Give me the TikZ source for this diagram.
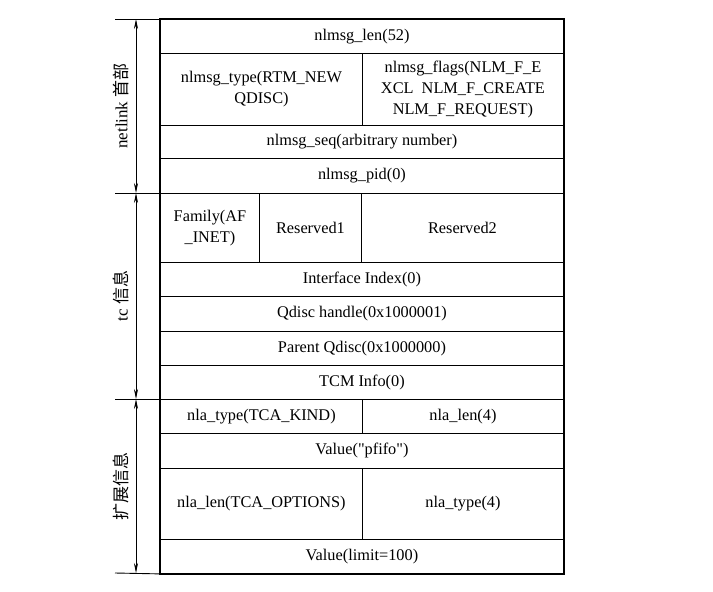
\documentclass[tikz,border=0pt]{standalone}
\usepackage{fontspec}
\setmainfont{Liberation Serif}
\newfontfamily\cjk{Noto Sans CJK SC}
\usetikzlibrary{arrows.meta}
\begin{document}
\begin{tikzpicture}[x=1pt,y=-1pt,
  cell/.style={draw,line width=0.9pt,anchor=north west,inner sep=0pt,
    align=center,font=\fontsize{16.3}{21}\selectfont},
  sep/.style={line width=0.9pt},
  span/.style={line width=0.8pt,{Stealth[length=10pt,width=4pt]}-{Stealth[length=10pt,width=4pt]}},
  side/.style={rotate=90,font=\fontsize{17}{20}\selectfont,inner sep=0pt}]
\useasboundingbox (0,0) rectangle (713,592);
% netlink header
\node[cell,minimum width=403pt,minimum height=34pt] (len) at (160,19) {nlmsg\_len(52)};
\node[cell,minimum width=202pt,minimum height=72pt] (type) at (160,53) {nlmsg\_type(RTM\_NEW\\QDISC)};
\node[cell,minimum width=201pt,minimum height=72pt] (flags) at (362,53) {nlmsg\_flags(NLM\_F\_E\\XCL\ \ NLM\_F\_CREATE\\NLM\_F\_REQUEST)};
\node[cell,minimum width=403pt,minimum height=33pt] (seq) at (160,125) {nlmsg\_seq(arbitrary number)};
\node[cell,minimum width=403pt,minimum height=35pt] (pid) at (160,158) {nlmsg\_pid(0)};
% tc message
\node[cell,minimum width=99pt,minimum height=69pt] (family) at (160,193) {Family(AF\\\_INET)};
\node[cell,minimum width=102pt,minimum height=69pt] (res1) at (259,193) {Reserved1};
\node[cell,minimum width=202pt,minimum height=69pt] (res2) at (361,193) {Reserved2};
\node[cell,minimum width=403pt,minimum height=34pt] (iface) at (160,262) {Interface Index(0)};
\node[cell,minimum width=403pt,minimum height=35pt] (handle) at (160,296) {Qdisc handle(0x1000001)};
\node[cell,minimum width=403pt,minimum height=34pt] (parent) at (160,331) {Parent Qdisc(0x1000000)};
\node[cell,minimum width=403pt,minimum height=34pt] (tcm) at (160,365) {TCM Info(0)};
% attributes
\node[cell,minimum width=202pt,minimum height=34pt] (kind) at (160,399) {nla\_type(TCA\_KIND)};
\node[cell,minimum width=201pt,minimum height=34pt] (klen) at (362,399) {nla\_len(4)};
\node[cell,minimum width=403pt,minimum height=35pt] (pfifo) at (160,433) {Value(\textquotedbl pfifo\textquotedbl)};
\node[cell,minimum width=202pt,minimum height=71pt] (opts) at (160,468) {nla\_len(TCA\_OPTIONS)};
\node[cell,minimum width=201pt,minimum height=71pt] (otype) at (362,468) {nla\_type(4)};
\node[cell,minimum width=403pt,minimum height=34pt] (limit) at (160,539) {Value(limit=100)};
% thicker outer border
\draw[line width=1.6pt] (len.north west) rectangle (limit.south east);
% section separators on the left
\coordinate (s0) at (115,19);
\coordinate (s1) at (115,193);
\coordinate (s2) at (115,399);
\coordinate (s3) at (115,573);
\draw[sep] (s0) -- (len.north west);
\draw[sep] (s1) -- (family.north west);
\draw[sep] (s2) -- (kind.north west);
\draw[sep] (s3) -- (limit.south west);
% spans
\coordinate (a0) at (136,19);
\coordinate (a1) at (136,193);
\coordinate (a2) at (136,399);
\coordinate (a3) at (136,573);
\draw[span] (a0) -- (a1);
\draw[span] (a1) -- (a2);
\draw[span] (a2) -- (a3);
\node[side] (lab1) at (121,106) {netlink {\cjk 首部}};
\node[side] (lab2) at (121,296) {tc {\cjk 信息}};
\node[side] (lab3) at (121,486) {\cjk 扩展信息};
\end{tikzpicture}
\end{document}
